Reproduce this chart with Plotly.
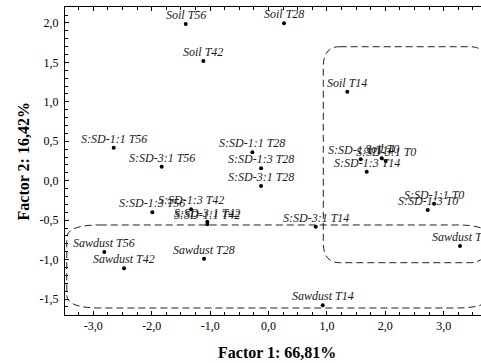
import plotly.graph_objects as go

# ---- data ----
labels = [
    "Soil T56", "Soil T42", "Soil T28", "Soil T14", "Soil T0",
    "S:SD-1:1 T56", "S:SD-3:1 T56", "S:SD-1:1 T28", "S:SD-1:3 T28", "S:SD-3:1 T28",
    "S:SD-1:1 T14", "S:SD-3:1 T0", "S:SD-1:3 T14", "S:SD-1:1 T0", "S:SD-1:3 T0",
    "S:SD-3:1 T14", "Sawdust T0", "Sawdust T14", "S:SD-1:3 T56", "S:SD-1:3 T42",
    "S:SD-3:1 T42", "S:SD-1:1 T42", "Sawdust T56", "Sawdust T42", "Sawdust T28",
]
factor1 = [
    -1.418, -1.116, 0.265, 1.349, 1.938,
    -2.651, -1.829, -0.277, -0.128, -0.128,
    1.579, 2.007, 1.681, 2.834, 2.726,
    0.808, 3.279, 0.928, -1.990, -1.327,
    -1.048, -1.048, -2.812, -2.474, -1.104,
]
factor2 = [
    1.986, 1.517, 1.995, 1.128, 0.284,
    0.418, 0.177, 0.360, 0.157, -0.067,
    0.271, 0.250, 0.114, -0.292, -0.371,
    -0.583, -0.828, -1.579, -0.401, -0.362,
    -0.520, -0.553, -0.904, -1.110, -0.989,
]
xtick_vals = [-3, -2, -1, 0, 1, 2, 3]
xtick_text = ["-3,0", "-2,0", "-1,0", "0,0", "1,0", "2,0", "3,0"]
ytick_vals = [-1.5, -1.0, -0.5, 0.0, 0.5, 1.0, 1.5, 2.0]
ytick_text = ["-1,5", "-1,0", "-0,5", "0,0", "0,5", "1,0", "1,5", "2,0"]
x_title = "Factor 1: 66,81%"
y_title = "Factor 2: 16,42%"

# grouping outlines (left, right, top, bottom) in factor units
group_boxes = [
    (0.938, 3.74, 1.698, -1.039),
    (-3.455, 3.79, -0.561, -1.613),
]
box_radii = [(0.28, 0.25), (0.565, 0.165)]

SERIF = "Liberation Serif"


def rounded_path(L, R, T, B, rx, ry):
    return (f"M {L+rx},{T} L {R-rx},{T} Q {R},{T} {R},{T-ry} "
            f"L {R},{B+ry} Q {R},{B} {R-rx},{B} "
            f"L {L+rx},{B} Q {L},{B} {L},{B+ry} "
            f"L {L},{T-ry} Q {L},{T} {L+rx},{T} Z")


fig = go.Figure()
fig.add_trace(go.Scatter(
    x=factor1, y=factor2, mode="markers",
    marker=dict(color="black", size=4),
    cliponaxis=False, showlegend=False, hoverinfo="skip",
))

annotations = []
for lab, fx, fy in zip(labels, factor1, factor2):
    annotations.append(dict(
        text=lab, x=fx, y=fy, xref="x", yref="y", showarrow=False,
        xanchor="center", yanchor="middle", yshift=9,
        font=dict(family=SERIF, size=12, style="italic", color="#1a1a1a"),
    ))

shapes = []
for (L, R, T, B), (rx, ry) in zip(group_boxes, box_radii):
    shapes.append(dict(type="path", xref="x", yref="y",
                       path=rounded_path(L, R, T, B, rx, ry),
                       line=dict(color="#222", width=1, dash="7px,4px"),
                       fillcolor="rgba(0,0,0,0)", layer="above"))

annotations += [
    dict(text=f"<b>{x_title}</b>", xref="paper", yref="paper",
         x=0.51, y=-0.122, xanchor="center", yanchor="middle",
         showarrow=False, font=dict(family=SERIF, size=16, color="black")),
    dict(text=f"<b>{y_title}</b>", xref="paper", yref="paper",
         x=-0.1, y=0.5, xanchor="center", yanchor="middle", textangle=-90,
         showarrow=False, font=dict(family=SERIF, size=16, color="black")),
]

fig.update_layout(
    width=481, height=363,
    margin=dict(l=65, r=0, t=7, b=48),
    paper_bgcolor="white", plot_bgcolor="white",
    font=dict(family=SERIF, size=12, color="black"),
    shapes=shapes,
    annotations=annotations,
)
fig.update_xaxes(
    range=[-3.485, 3.638], showgrid=False, zeroline=False,
    showline=True, linecolor="black", linewidth=1, mirror="ticks",
    ticks="inside", ticklen=4, tickcolor="black",
    tickmode="array", tickvals=xtick_vals, ticktext=xtick_text,
    tickfont=dict(family=SERIF, size=12, color="black"),
    minor=dict(ticks="inside", ticklen=3, tickcolor="black", dtick=0.25, tick0=0, showgrid=False),
)
fig.update_yaxes(
    range=[-1.702, 2.2015], showgrid=False, zeroline=False,
    showline=True, linecolor="black", linewidth=1,
    ticks="inside", ticklen=4, tickcolor="black",
    tickmode="array", tickvals=ytick_vals, ticktext=ytick_text,
    tickfont=dict(family=SERIF, size=12, color="black"),
    ticklabelstandoff=3,
    minor=dict(ticks="inside", ticklen=3, tickcolor="black", dtick=0.1, tick0=0, showgrid=False),
)

fig.write_html("out.html")
